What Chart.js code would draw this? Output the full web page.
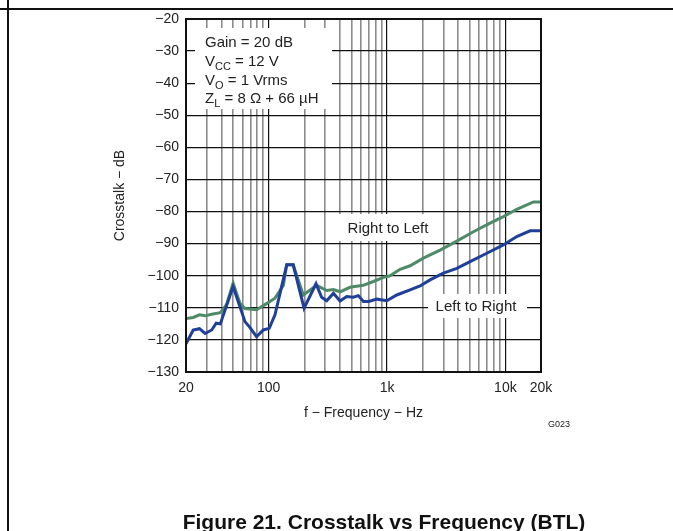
<!DOCTYPE html>
<html>
<head>
<meta charset="utf-8">
<script src="https://cdn.jsdelivr.net/npm/chart.js@4.4.0/dist/chart.umd.min.js"></script>
<style>
  html, body { margin: 0; padding: 0; background: #fff; }
  #wrap { position: relative; width: 673px; height: 531px; overflow: hidden; font-family: "Liberation Sans", Arial, sans-serif; }
  #lineV { position: absolute; left: 7px; top: 0; width: 2px; height: 531px; background: #111; }
  #lineH { position: absolute; left: 0; top: 8px; width: 673px; height: 2px; background: #111; }
  #code { position: absolute; left: 548px; top: 419px; font-size: 9px; color: #222; }
  #caption { position: absolute; left: 0; width: 768px; top: 510px; text-align: center; font-weight: bold; font-size: 21px; color: #111; }
  canvas { position: absolute; left: 0; top: 0; }
</style>
</head>
<body>
<div id="wrap">
  <canvas id="myChart" width="673" height="531"></canvas>
  <div id="lineV"></div>
  <div id="lineH"></div>
  <div id="code">G023</div>
  <div id="caption">Figure 21. Crosstalk vs Frequency (BTL)</div>
</div>
<script>
// Right to Left (green)
var freqRL = [20, 23, 26, 29, 33, 39, 44, 50, 57, 63, 79, 93, 113, 133, 142, 161, 196, 254, 309, 352, 401, 486, 630, 766, 931, 1060, 1288, 1565, 2028, 2807, 3884, 5364, 7426, 9616, 12480, 17250, 20000];
var dbRL   = [-113.3, -113, -112.2, -112.5, -112, -111.5, -109, -102.3, -108.5, -110.2, -110.6, -109, -107, -103, -96.6, -96.6, -106, -103, -104.6, -104.3, -105, -103.6, -103, -101.8, -100.5, -100, -98, -96.9, -94.5, -92, -89.2, -86.3, -83.6, -81.6, -79.3, -77, -77];
// Left to Right (blue)
var freqLR = [20, 23, 26, 29, 33, 36, 39, 50, 63, 69, 79, 90, 101, 113, 142, 161, 199, 251, 280, 309, 352, 401, 456, 519, 572, 631, 700, 819, 995, 1208, 1565, 1901, 2310, 2994, 3884, 5031, 6966, 9616, 12480, 16180, 20000];
var dbLR   = [-121.2, -116.9, -116.5, -118, -116.9, -114.8, -115, -103.4, -114.3, -116, -119, -116.9, -116.4, -112.2, -96.6, -96.6, -110.1, -102.5, -106.7, -107.8, -105.5, -107.9, -106.5, -106.7, -106.2, -108, -108, -107.3, -107.8, -106, -104.4, -103.2, -101.3, -99.2, -97.7, -95.6, -93, -90.4, -87.8, -86, -86];

var xGrid = [20, 30, 40, 50, 60, 70, 80, 90, 100, 200, 300, 400, 500, 600, 700, 800, 900,
             1000, 2000, 3000, 4000, 5000, 6000, 7000, 8000, 9000, 10000, 20000];
var xLabels = {20: "20", 100: "100", 1000: "1k", 10000: "10k", 20000: "20k"};
var yMin = -130, yMax = -20, yStep = 10;

function pts(f, d) { return f.map(function (v, i) { return {x: v, y: d[i]}; }); }

var font = '"Liberation Sans", Arial, sans-serif';

function drawParts(ctx, x, y, parts) {
  parts.forEach(function (p) {
    ctx.font = (p[1] ? "11px " : "15px ") + font;
    ctx.fillText(p[0], x, y + (p[1] ? 4 : 0));
    x += ctx.measureText(p[0]).width;
  });
}

var boxes = {
  id: "boxes",
  beforeDatasetsDraw: function (chart) {
    var ctx = chart.ctx;
    ctx.save();
    ctx.fillStyle = "#fff";
    ctx.fillRect(195, 28, 137, 81);
    ctx.fillRect(339, 214, 91, 27);
    ctx.fillRect(428, 294, 99, 24);
    ctx.fillStyle = "#222";
    ctx.textBaseline = "alphabetic";
    ctx.textAlign = "left";
    drawParts(ctx, 205, 47, [["Gain = 20 dB", 0]]);
    drawParts(ctx, 205, 66, [["V", 0], ["CC", 1], [" = 12 V", 0]]);
    drawParts(ctx, 205, 85, [["V", 0], ["O", 1], [" = 1 Vrms", 0]]);
    drawParts(ctx, 205, 103, [["Z", 0], ["L", 1], [" = 8 \u03A9 + 66 \u00B5H", 0]]);
    ctx.textAlign = "center";
    ctx.font = "15px " + font;
    ctx.fillText("Right to Left", 388, 233);
    ctx.fillText("Left to Right", 476, 311);
    ctx.restore();
  },
  afterDatasetsDraw: function (chart) {
    var a = chart.chartArea, ctx = chart.ctx;
    ctx.save();
    ctx.strokeStyle = "#111";
    ctx.lineWidth = 2;
    ctx.strokeRect(a.left, a.top, a.right - a.left, a.bottom - a.top);
    ctx.restore();
  }
};

var ctx = document.getElementById("myChart").getContext("2d");
var myChart = new Chart(ctx, {
  type: "line",
  data: {
    datasets: [
      {
        label: "Left to Right",
        data: pts(freqLR, dbLR),
        borderColor: "#1f3f98",
        borderWidth: 3,
        pointRadius: 0,
        tension: 0,
        order: 0
      },
      {
        label: "Right to Left",
        data: pts(freqRL, dbRL),
        borderColor: "#4f8a68",
        borderWidth: 3,
        pointRadius: 0,
        tension: 0,
        order: 1
      }
    ]
  },
  options: {
    responsive: false,
    animation: false,
    layout: { padding: { left: 112, right: 132, top: 19, bottom: 109 } },
    plugins: { legend: { display: false }, tooltip: { enabled: false } },
    scales: {
      x: {
        type: "logarithmic",
        min: 20,
        max: 20000,
        afterBuildTicks: function (scale) {
          scale.ticks = xGrid.map(function (v) { return {value: v}; });
        },
        afterFit: function (scale) { scale.height = 50; },
        ticks: {
          autoSkip: false,
          maxRotation: 0,
          padding: 8,
          color: "#222",
          font: { family: font, size: 14 },
          callback: function (v) { return xLabels[v] || ""; }
        },
        grid: {
          drawTicks: false,
          color: function (c) { return [100, 1000, 10000].indexOf(c.tick.value) >= 0 ? "#111" : "#8c8c8c"; },
          lineWidth: function (c) { return [100, 1000, 10000].indexOf(c.tick.value) >= 0 ? 1.2 : 1.6; }
        },
        border: { display: false },
        title: {
          display: true,
          text: "f \u2212 Frequency \u2212 Hz",
          color: "#222",
          font: { family: font, size: 14 },
          padding: 0
        }
      },
      y: {
        min: yMin,
        max: yMax,
        afterFit: function (scale) { scale.width = 74; },
        ticks: {
          stepSize: yStep,
          padding: 7,
          color: "#222",
          font: { family: font, size: 14 },
          callback: function (v) { return String(v).replace("-", "\u2212"); }
        },
        grid: { drawTicks: false, color: "#111", lineWidth: 1.2 },
        border: { display: false },
        title: {
          display: true,
          text: "Crosstalk \u2212 dB",
          color: "#222",
          font: { family: font, size: 14 },
          padding: 0
        }
      }
    }
  },
  plugins: [boxes]
});
</script>
</body>
</html>
